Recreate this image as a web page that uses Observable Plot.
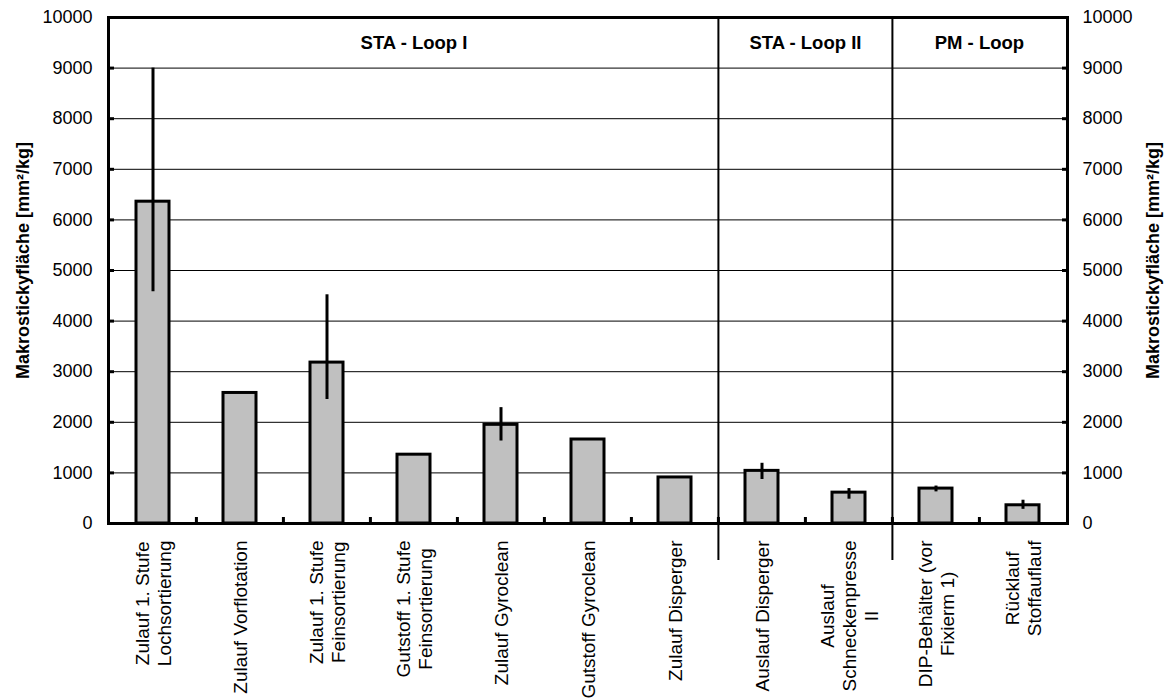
<!DOCTYPE html>
<html><head><meta charset="utf-8">
<script src="https://cdn.jsdelivr.net/npm/d3@7"></script>
<script src="https://cdn.jsdelivr.net/npm/@observablehq/plot@0.6"></script>
<style>body{margin:0;background:#fff;}</style>
</head><body><div id="chart"></div>
<script>
const categories = ["Zulauf 1. Stufe\nLochsortierung", "Zulauf Vorflotation", "Zulauf 1. Stufe\nFeinsortierung", "Gutstoff 1. Stufe\nFeinsortierung", "Zulauf Gyroclean", "Gutstoff Gyroclean", "Zulauf Disperger", "Auslauf Disperger", "Auslauf\nSchneckenpresse\nII", "DIP-Behälter (vor\nFixierm 1)", "Rücklauf\nStoffauflauf"];
const values = [6360, 2580, 3180, 1360, 1950, 1660, 910, 1040, 610, 690, 360];
const errLow = [4580, null, 2450, null, 1630, null, null, 870, 480, 625, 280];
const errHigh = [9000, null, 4520, null, 2290, null, null, 1190, 690, 740, 460];
const groups = ["STA - Loop I", "STA - Loop II", "PM - Loop"];
const groupStart = [0, 7, 9];
const groupEnd = [7, 9, 11];
const yTicks = d3.range(0, 10001, 1000);
const yLabel = "Makrostickyfläche [mm²/kg]";

const W = 1171, H = 699, mL = 108, mR = 104, mT = 17, mB = 176;
const step = (W - mL - mR) / categories.length;
const FONT = "'Liberation Sans', Arial, sans-serif";
const labelSize = 19;

const data = categories.map((c, i) => ({cat: c, value: values[i], lo: errLow[i], hi: errHigh[i]}));
const errData = data.filter(d => d.lo != null);

const ctx = document.createElement("canvas").getContext("2d");
ctx.font = `${labelSize}px ${FONT}`;
function maxLineWidth(s) { return Math.max(...s.split("\n").map(l => ctx.measureText(l).width)); }

const xLabelMarks = categories.map(c => Plot.text([c], {
  x: d => d, frameAnchor: "bottom", rotate: -90, textAnchor: "middle", lineAnchor: "middle",
  lineHeight: 1.17, fontSize: labelSize, fill: "black",
  dy: 17 + maxLineWidth(c) / 2
}));

const groupMarks = groups.map((g, k) => {
  const s = groupStart[k], e = groupEnd[k];
  const idx = s + Math.floor((e - s) / 2);
  return Plot.text([g], {
    x: () => categories[idx], y: () => 9500,
    dx: (e - s) % 2 ? 0 : -step / 2,
    fontWeight: "bold", fontSize: 18.5, fill: "black"
  });
});

const chart = Plot.plot({
  width: W, height: H,
  marginLeft: mL, marginRight: mR, marginTop: mT, marginBottom: mB,
  style: {fontFamily: FONT, fontSize: "18px", color: "black", background: "white"},
  x: {domain: categories, paddingInner: 0.62, paddingOuter: 0.31, axis: null},
  y: {domain: [0, 10000]},
  marks: [
    Plot.gridY(yTicks, {stroke: "black", strokeOpacity: 1, strokeWidth: 1}),
    Plot.barY(data, {x: "cat", y: "value", fill: "#c0c0c0", stroke: "black", strokeWidth: 3}),
    Plot.ruleX(errData, {x: "cat", y1: "lo", y2: "hi", stroke: "black", strokeWidth: 3}),
    Plot.ruleX(groupStart.slice(1).map(i => categories[i]), {x: d => d, dx: -step / 2, stroke: "black", strokeWidth: 2, insetBottom: -37}),
    Plot.ruleX(categories.slice(1), {x: d => d, dx: -step / 2, y1: 0, y2: 0, insetBottom: 6, stroke: "black", strokeWidth: 3}),
    Plot.frame({stroke: "black", strokeWidth: 3}),
    Plot.axisY(yTicks, {anchor: "left", tickSize: -6, tickPadding: 22, strokeWidth: 3, tickFormat: "d", fontSize: 18, label: null}),
    Plot.axisY(yTicks, {anchor: "right", tickSize: -6, tickPadding: 21, strokeWidth: 3, tickFormat: "d", fontSize: 18, label: null}),
    Plot.text([yLabel], {frameAnchor: "left", textAnchor: "middle", rotate: -90, dx: -85, dy: -10, fontWeight: "bold", fontSize: 18, fill: "black"}),
    Plot.text([yLabel], {frameAnchor: "right", textAnchor: "middle", rotate: -90, dx: 86, dy: -10, fontWeight: "bold", fontSize: 18, fill: "black"}),
    ...groupMarks,
    ...xLabelMarks
  ]
});
document.getElementById("chart").appendChild(chart);
</script>
</body></html>
